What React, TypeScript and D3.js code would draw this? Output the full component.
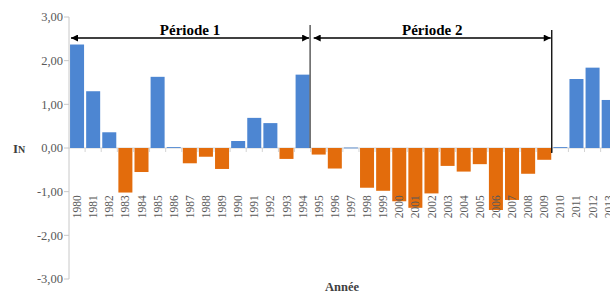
import React from "react";
import * as d3 from "d3";

const years: string[] = [
  "1980","1981","1982","1983","1984","1985","1986","1987","1988","1989",
  "1990","1991","1992","1993","1994","1995","1996","1997","1998","1999",
  "2000","2001","2002","2003","2004","2005","2006","2007","2008","2009",
  "2010","2011","2012","2013",
];
const values: number[] = [
  2.37, 1.3, 0.36, -1.02, -0.55, 1.63, 0.02, -0.35, -0.2, -0.48,
  0.16, 0.69, 0.57, -0.25, 1.68, -0.15, -0.47, 0.01, -0.91, -0.98,
  -1.22, -1.37, -1.04, -0.41, -0.54, -0.37, -1.42, -1.19, -0.59, -0.27,
  0.02, 1.58, 1.84, 1.1,
];
const yTicks: number[] = [3, 2, 1, 0, -1, -2, -3];
const periods = [
  { label: "Période 1", from: "1980", to: "1994" },
  { label: "Période 2", from: "1995", to: "2009" },
];

const W = 610;
const H = 296;
const STEP = 16.11;
const X0 = 69;

export default function App() {
  const x = d3
    .scaleBand<string>()
    .domain(years)
    .range([X0, X0 + years.length * STEP])
    .paddingInner(0.13)
    .paddingOuter(0.065);
  const y = d3.scaleLinear().domain([-3, 3]).range([279, 17]);
  const gapHalf = (x.step() - x.bandwidth()) / 2;
  const fmt = (v: number) => v.toFixed(2).replace(".", ",");
  const blue = "#4d86d2";
  const orange = "#e36c0c";
  const serif = "'Liberation Serif', 'Times New Roman', serif";
  const arrowY = 38;

  const leftEdge = (yr: string) => (yr === years[0] ? X0 + 1 : (x(yr) as number) + 1);
  const rightEdge = (yr: string) => (x(yr) as number) + x.bandwidth() + 0.5;
  const tickPos = (yr: string) => (x(yr) as number) + x.bandwidth() + gapHalf;

  return (
    <svg
      width={W}
      height={H}
      style={{ position: "absolute", left: 0, top: 0, background: "#fff" }}
    >
      <defs>
        <marker id="ah" viewBox="0 0 10 10" refX="10" refY="5" markerWidth="9" markerHeight="7" markerUnits="userSpaceOnUse" orient="auto-start-reverse">
          <path d="M0,0 L10,5 L0,10 z" fill="#000" />
        </marker>
      </defs>
      {/* zero line */}
      <line x1={X0} x2={W} y1={y(0)} y2={y(0)} stroke="#d4d4d4" strokeWidth={1} />
      {/* category ticks */}
      {years.map((yr) => (
        <line key={"t" + yr} x1={tickPos(yr)} x2={tickPos(yr)} y1={y(0)} y2={y(0) + 4} stroke="#d4d4d4" />
      ))}
      {/* bars */}
      {years.map((yr, i) => {
        const v = values[i];
        return (
          <rect
            key={yr}
            x={x(yr)}
            width={x.bandwidth()}
            y={Math.min(y(v), y(0))}
            height={Math.max(Math.abs(y(v) - y(0)), 0.8)}
            fill={v >= 0 ? blue : orange}
          />
        );
      })}
      {/* y axis */}
      <line x1={X0} x2={X0} y1={y(3)} y2={y(-3)} stroke="#c8c8c8" />
      {yTicks.map((t) => (
        <g key={"y" + t}>
          <line x1={X0 - 5} x2={X0} y1={y(t)} y2={y(t)} stroke="#c8c8c8" />
          <text x={X0 - 6} y={y(t)} dy="0.35em" textAnchor="end" fontFamily={serif} fontSize={12.5} fill="#595959">
            {fmt(t)}
          </text>
        </g>
      ))}
      {/* x labels */}
      {years.map((yr) => (
        <text
          key={"l" + yr}
          transform={`translate(${(x(yr) as number) + x.bandwidth() / 2},${y(-1.08)}) rotate(-90)`}
          textAnchor="end"
          dy="0.35em"
          fontFamily={serif}
          fontSize={11.5}
          fill="#595959"
        >
          {yr}
        </text>
      ))}
      {/* period annotations */}
      {periods.map((p, i) => {
        const a = leftEdge(p.from);
        const b = rightEdge(p.to);
        return (
          <g key={p.label}>
            <line x1={a + 1} x2={b - 1} y1={arrowY} y2={arrowY} stroke="#000" strokeWidth={1.4} markerStart="url(#ah)" markerEnd="url(#ah)" />
            <line x1={b} x2={b} y1={i === 0 ? 25 : 30} y2={i === 0 ? y(0) : y(0) + 5} stroke={i === 0 ? "#444" : "#000"} strokeWidth={1.3} />
            <text x={(a + b) / 2} y={35} textAnchor="middle" fontFamily={serif} fontWeight="bold" fontSize={15} fill="#000">
              {p.label}
            </text>
          </g>
        );
      })}
      {/* axis titles */}
      <text x={13} y={y(0) + 5} fontFamily={serif} fontWeight="bold" fill="#404040">
        <tspan fontSize={13}>I</tspan>
        <tspan fontSize={10}>N</tspan>
      </text>
      <text x={342} y={291} textAnchor="middle" fontFamily={serif} fontWeight="bold" fontSize={12.5} fill="#404040">
        Année
      </text>
    </svg>
  );
}
